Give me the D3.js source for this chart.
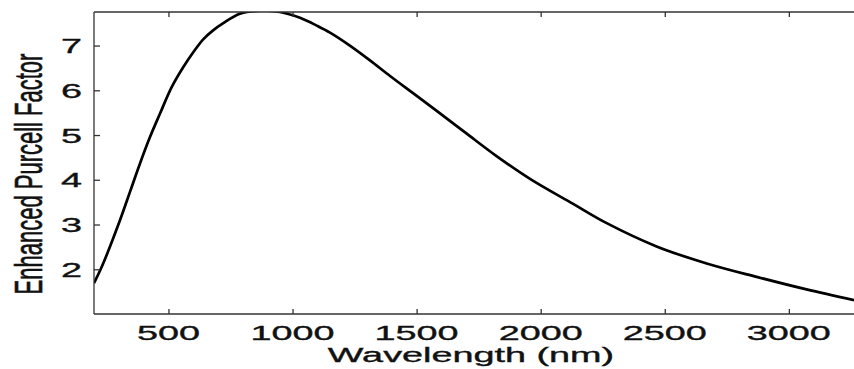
<!DOCTYPE html>
<html>
<head>
<meta charset="utf-8">
<script src="https://cdn.jsdelivr.net/npm/d3@7"></script>
<style>
html,body{margin:0;padding:0;background:#fff;}
svg{display:block;}
text{font-family:"Liberation Sans",Arial,Helvetica,sans-serif;fill:#111;stroke:#111;stroke-width:0.35px;}
</style>
</head>
<body>
<svg id="chart" width="854" height="369"></svg>
<script>
const wavelength = [200,237,305,345,385,426,466,513,560,600,640,680,721,788,870,949,1030,1100,1151,1231,1312,1393,1487,1581,1702,1822,1957,2131,2266,2467,2669,2870,3071,3263];
const purcell    = [1.69,2.13,3.10,3.73,4.36,4.96,5.48,6.07,6.52,6.85,7.14,7.34,7.50,7.71,7.78,7.75,7.62,7.44,7.29,7.00,6.67,6.32,5.93,5.54,5.03,4.53,4.02,3.46,3.03,2.51,2.13,1.83,1.55,1.31];
const xTicks = [500,1000,1500,2000,2500,3000];
const yTicks = [2,3,4,5,6,7];
const xLabel = "Wavelength (nm)";
const yLabel = "Enhanced Purcell Factor";

const svg = d3.select("#chart");
const mLeft = 94, mTop = 12, mBottom = 314;
const SX = 1.8; // horizontal stretch of text seen in reference
const x = d3.scaleLinear().domain([200, 3300]).range([mLeft, mLeft + 3100*0.24816]);
const y = d3.scaleLinear().domain([1, 7.75]).range([mBottom, mTop]);

svg.append("defs").append("clipPath").attr("id","clip")
  .append("rect").attr("x", mLeft).attr("y", mTop).attr("width", 854-mLeft).attr("height", mBottom-mTop);

const data = wavelength.map((w,i)=>({w, v: purcell[i]}));
const line = d3.line().x(d=>x(d.w)).y(d=>y(d.v)).curve(d3.curveCatmullRom.alpha(0.5));
svg.append("path").datum(data).attr("d", line)
  .attr("fill","none").attr("stroke","#000").attr("stroke-width",2.7)
  .attr("clip-path","url(#clip)");

const axisColor = "#333";
const gx = svg.append("g").attr("transform",`translate(0,${mBottom})`)
  .call(d3.axisBottom(x).tickValues(xTicks).tickSize(-5).tickFormat(""));
const gxt = svg.append("g").attr("transform",`translate(0,${mTop})`)
  .call(d3.axisTop(x).tickValues(xTicks).tickSize(-5).tickFormat(""));
const gy = svg.append("g").attr("transform",`translate(${mLeft},0)`)
  .call(d3.axisLeft(y).tickValues(yTicks).tickSize(-6).tickFormat(""));
[gx,gxt,gy].forEach(g=>{
  g.select(".domain").attr("stroke",axisColor).attr("stroke-width",1.3);
  g.selectAll(".tick line").attr("stroke",axisColor).attr("stroke-width",1.3);
});
gy.select(".domain").attr("d", `M0,${mBottom}V${mTop}`);
gx.select(".domain").attr("d", `M${mLeft},0H854`);
gxt.select(".domain").attr("d", `M${mLeft},0H854`);

svg.append("g").selectAll("text").data(xTicks).join("text")
  .attr("transform", d=>`translate(${x(d)},340) scale(${SX},1)`)
  .attr("text-anchor","middle").attr("font-size",21).text(d=>d);

svg.append("g").selectAll("text").data(yTicks).join("text")
  .attr("transform", d=>`translate(82,${y(d)+7.5}) scale(${SX},1)`)
  .attr("text-anchor","end").attr("font-size",21).text(d=>d);

svg.append("text").attr("transform",`translate(471,362) scale(${SX},1)`)
  .attr("text-anchor","middle").attr("font-size",21).text(xLabel);
svg.append("text").attr("transform",`translate(42,174) scale(${SX},1) rotate(-90)`)
  .attr("text-anchor","middle").attr("font-size",22).text(yLabel);
</script>
</body>
</html>
